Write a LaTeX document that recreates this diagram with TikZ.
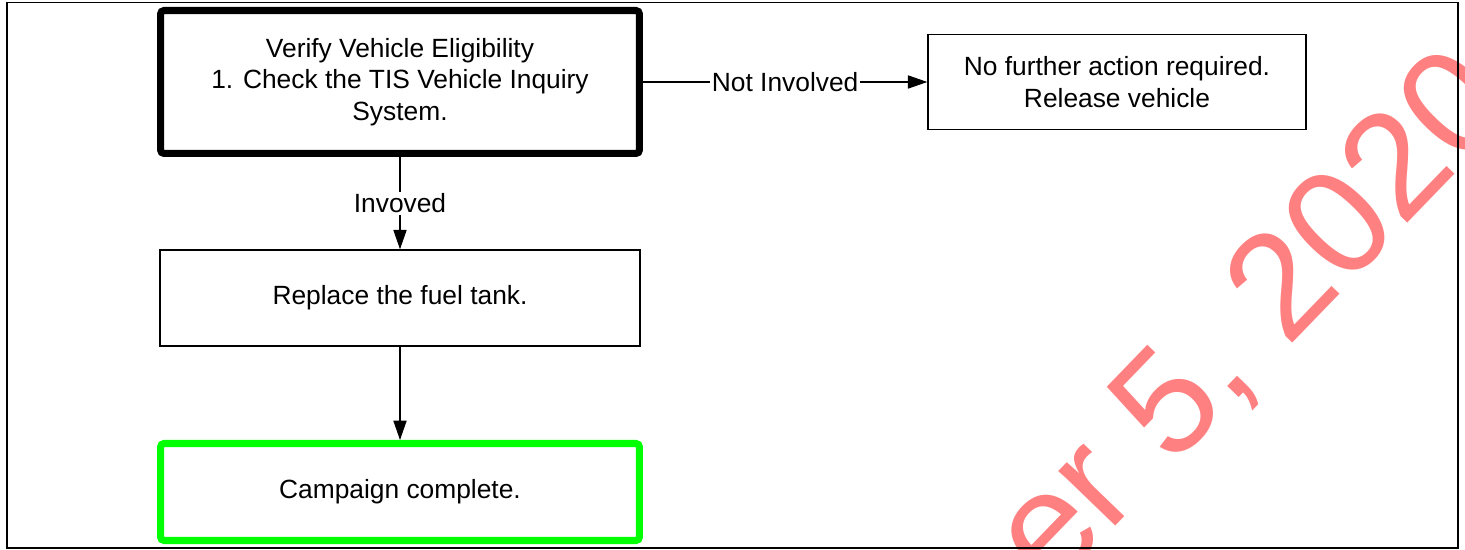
\documentclass[tikz,border=0pt]{standalone}
\usepackage{fontspec}
\setmainfont{Liberation Sans}
\usetikzlibrary{arrows.meta}
\definecolor{wmark}{RGB}{255,128,128}
\definecolor{donegreen}{RGB}{0,255,0}

\begin{document}
\begin{tikzpicture}[x=0.02cm,y=-0.02cm,
    box/.style={draw,line width=0.85pt,minimum width=9.6cm,minimum height=1.92cm,
        align=center,inner sep=0pt,font=\fontsize{15}{18}\selectfont},
    flow/.style={line width=0.6pt,-{Triangle[length=11pt,width=7.5pt]}},
    lbl/.style={fill=white,inner sep=1pt,font=\fontsize{15}{18}\selectfont}]
            \useasboundingbox (0,0) rectangle (1465,550);
            \begin{scope}
                \clip (0,0) rectangle (1465,550);
                \node[anchor=base west,rotate=46,inner sep=0pt,text=wmark,
                    font=\fontsize{85}{100}\selectfont] (date) at (1051,593) {er 5, 2020};
            \end{scope}
            \draw[line width=1.1pt] (7,2.5) rectangle (1458,548);

            \node[box,line width=4pt,rounded corners=2pt,minimum width=9.58cm,minimum height=2.86cm]
                (verify) at (400,82) {Verify Vehicle Eligibility\\1. Check the TIS Vehicle Inquiry\\System.};
            \node[box,minimum width=7.56cm,minimum height=1.9cm]
                (release) at (1117,82) {No further action required.\\Release vehicle};
            \node[box] (replace) at (400,298) {Replace the fuel tank.};
            \node[box,draw=donegreen,line width=4pt,rounded corners=2pt,minimum width=9.58cm,minimum height=1.94cm]
                (done) at (400,492) {Campaign complete.};

            \draw[flow] (verify) -- node[lbl] {Not Involved} (release);
            \draw[flow] (verify) -- node[lbl] {Invoved} (replace);
            \draw[flow] (replace) -- (done);
        \end{tikzpicture}
\end{document}
